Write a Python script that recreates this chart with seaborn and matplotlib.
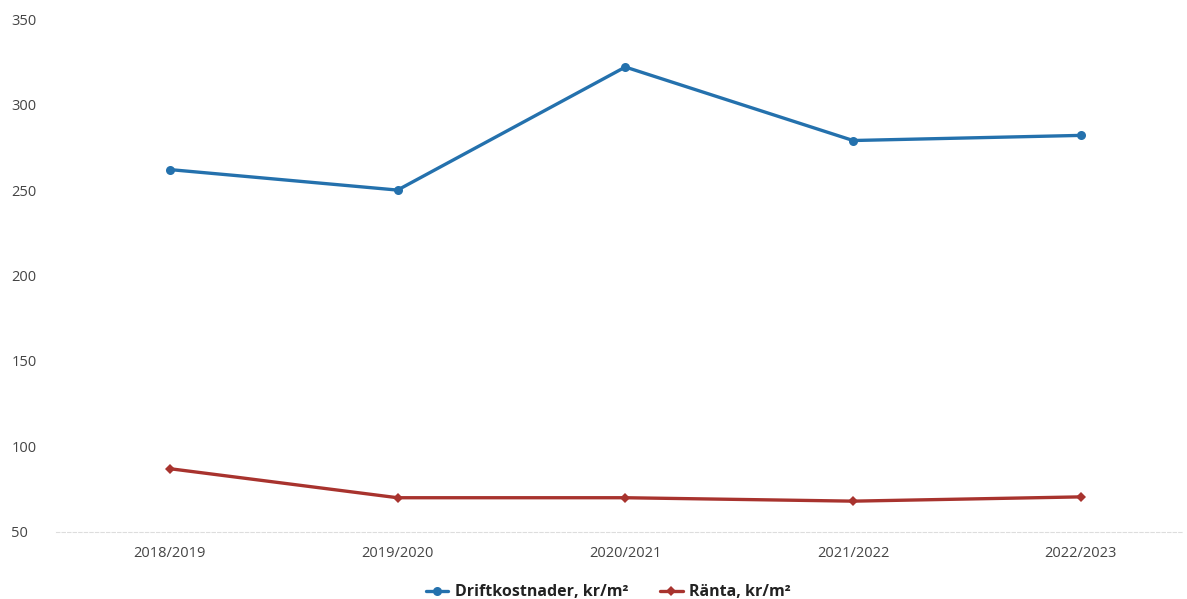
import matplotlib
matplotlib.use("Agg")
import matplotlib.pyplot as plt
import seaborn as sns
import pandas as pd

years = ["2018/2019", "2019/2020", "2020/2021", "2021/2022", "2022/2023"]
drift = [262, 250, 322, 279, 282]
ranta = [87, 70, 70, 68, 70.5]
series_names = ["Driftkostnader, kr/m²", "Ränta, kr/m²"]
yticks = [50, 100, 150, 200, 250, 300, 350]

df = pd.DataFrame({
    "year": years * 2,
    "value": drift + ranta,
    "series": [series_names[0]] * len(years) + [series_names[1]] * len(years),
})

sns.set_theme(style="white")
plt.rcParams['font.family'] = ['Open Sans', 'DejaVu Sans']

fig = plt.figure(figsize=(11.87, 5.99), dpi=100)
ax = fig.add_axes([0.047, 0.112, 0.95, 0.856])

palette = {series_names[0]: "#2471ad", series_names[1]: "#a8332e"}
markers = {series_names[0]: "o", series_names[1]: "D"}
sizes = {series_names[0]: 6.5, series_names[1]: 5}

for name in series_names:
    sub = df[df["series"] == name]
    sns.lineplot(data=sub, x="year", y="value", ax=ax, color=palette[name],
                 marker=markers[name], markersize=sizes[name], linewidth=2.4,
                 markeredgewidth=0, label=name, sort=False)

ax.set_ylim(50, 350)
ax.set_xlim(-0.5, 4.45)
ax.set_yticks(yticks)
ax.set_xlabel("")
ax.set_ylabel("")
for s in ["top", "right", "left"]:
    ax.spines[s].set_visible(False)
ax.spines["bottom"].set_color("#dddddd")
ax.spines["bottom"].set_linestyle((0, (3, 2)))
ax.spines["bottom"].set_linewidth(0.8)
ax.tick_params(axis="both", length=0, labelsize=10.5, colors="#444444")
ax.tick_params(axis="x", pad=10)
for lbl in ax.get_yticklabels():
    lbl.set_horizontalalignment("left")
ax.yaxis.set_tick_params(pad=32)

leg = ax.legend(loc="center", bbox_to_anchor=(0.49, -0.118), ncol=2,
                frameon=False, fontsize=11.5, handlelength=1.4, columnspacing=2.0,
                handletextpad=0.4, borderpad=0)
for t in leg.get_texts():
    t.set_fontweight("bold")
    t.set_color("#222222")

fig.savefig("out.png", dpi=100, facecolor="white")
